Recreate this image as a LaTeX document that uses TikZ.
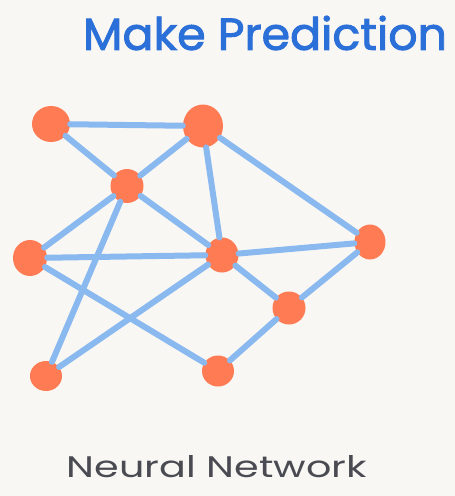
\documentclass[tikz,border=0pt]{standalone}
\usepackage{fontspec}
\setmainfont{Poppins}
\newfontfamily\titlefont[FakeBold=2]{Poppins}
\usetikzlibrary{shapes.geometric}
\definecolor{bgc}{HTML}{F9F7F3}
\definecolor{edgec}{HTML}{8AB9F0}
\definecolor{nodec}{HTML}{FF7B54}
\definecolor{titlec}{HTML}{2B6FD8}
\definecolor{labelc}{HTML}{4A4A52}
\tikzset{
  neuron/.style={ellipse, fill=nodec, draw=none, inner sep=0pt},
  link/.style={draw=edgec, line width=6pt, line cap=round},
  caption/.style={anchor=center, inner sep=0pt},
}
\begin{document}
\begin{tikzpicture}[x=1pt,y=-1pt]
\fill[bgc] (0,0) rectangle (455,496);
\useasboundingbox (0,0) rectangle (455,496);
\node[caption, text=titlec] (title) at (265,33) {\resizebox{364pt}{34pt}{\titlefont Make\ Prediction}};
\node[caption, text=labelc] (label) at (217,467) {\resizebox{300pt}{22pt}{Neural\ Network}};
\node[neuron, minimum width=38pt, minimum height=36pt] (A) at (51,124) {};
\node[neuron, minimum width=40pt, minimum height=43pt] (B) at (203,126) {};
\node[neuron, minimum width=33pt, minimum height=34pt] (C) at (127,186) {};
\node[neuron, minimum width=34pt, minimum height=36pt] (D) at (30,258) {};
\node[neuron, minimum width=33pt, minimum height=35pt] (E) at (222,255) {};
\node[neuron, minimum width=31pt, minimum height=35pt] (F) at (370,242) {};
\node[neuron, minimum width=33pt, minimum height=33pt] (G) at (289,308) {};
\node[neuron, minimum width=32pt, minimum height=30pt] (H) at (46,376) {};
\node[neuron, minimum width=32pt, minimum height=31pt] (I) at (218,371) {};
\path[link] (A) -- (B);
\path[link] (A) -- (C);
\path[link] (B) -- (C);
\path[link] (B) -- (E);
\path[link] (B) -- (F);
\path[link] (C) -- (D);
\path[link] (C) -- (E);
\path[link] (C) -- (H);
\path[link] (D) -- (E);
\path[link] (D) -- (I);
\path[link] (E) -- (F);
\path[link] (E) -- (G);
\path[link] (E) -- (H);
\path[link] (F) -- (G);
\path[link] (G) -- (I);
\end{tikzpicture}
\end{document}
